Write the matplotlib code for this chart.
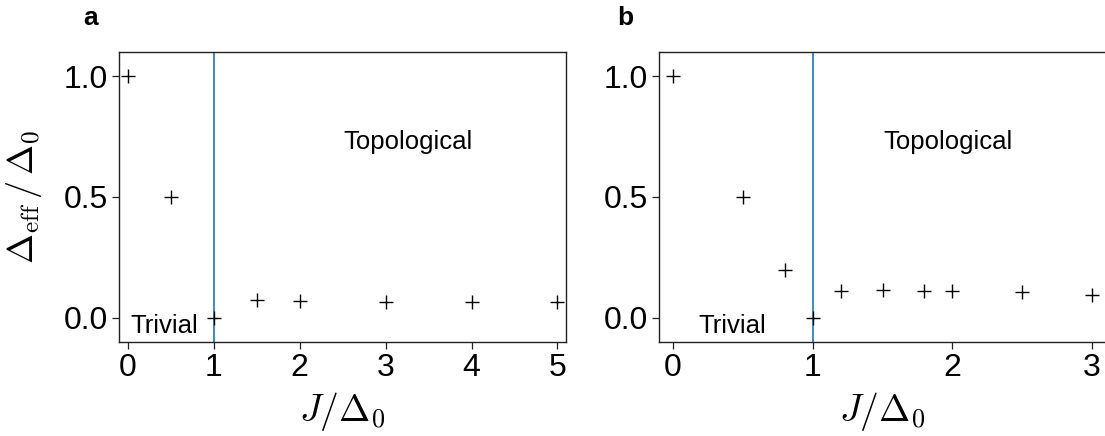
import matplotlib
matplotlib.use("Agg")
import matplotlib.pyplot as plt

plt.rcParams['font.family'] = ['Liberation Sans', 'DejaVu Sans']
plt.rcParams['mathtext.fontset'] = 'cm'

# Panel a data
Ja = [0, 0.5, 1, 1.5, 2, 3, 4, 5]
Da = [1.0, 0.5, 0.0, 0.072, 0.067, 0.063, 0.063, 0.063]
xticks_a = [0, 1, 2, 3, 4, 5]

# Panel b data
Jb = [0, 0.5, 0.8, 1, 1.2, 1.5, 1.8, 2, 2.5, 3]
Db = [1.0, 0.5, 0.199, 0.0, 0.108, 0.113, 0.109, 0.109, 0.105, 0.095]
xticks_b = [0, 1, 2, 3]

yticks = [0.0, 0.5, 1.0]
ytick_labels = ["0.0", "0.5", "1.0"]

W, H = 1105, 436
fig = plt.figure(figsize=(W / 100, H / 100), dpi=100)

def px(l, r, t, b):
    return [l / W, (H - b) / H, (r - l) / W, (b - t) / H]

axa = fig.add_axes(px(119.3, 566, 52, 341.7))
axb = fig.add_axes(px(659, 1106, 52, 341.7))

for ax, J, D, xt, xlim, topx, trivx in [
    (axa, Ja, Da, xticks_a, (-0.1, 5.1), 3.26, 0.03),
    (axb, Jb, Db, xticks_b, (-0.1, 3.1), 1.97, 0.185),
]:
    ax.axvline(1, color='#1f77b4', lw=1.2, zorder=1)
    ax.plot(J, D, linestyle='none', marker='+', color='black',
            markersize=10, markeredgewidth=1.0, zorder=3)
    ax.set_xlim(*xlim)
    ax.set_ylim(-0.1, 1.1)
    ax.set_xticks(xt)
    ax.set_xticklabels([str(v) for v in xt])
    ax.set_yticks(yticks)
    ax.set_yticklabels(ytick_labels)
    ax.tick_params(axis='both', labelsize=23, length=5, width=0.9,
                   direction='out', pad=3, colors='#222222', labelcolor='black')
    for sp in ax.spines.values():
        sp.set_linewidth(1.0)
        sp.set_color('#222222')
    ax.text(topx, 0.70, "Topological", fontsize=18.5, ha='center', va='baseline')
    ax.text(trivx, -0.062, "Trivial", fontsize=18.5, ha='left', va='baseline')
    ax.set_xlabel(r"$J/\Delta_0$", fontsize=27, labelpad=5)

axa.set_ylabel(r"$\Delta_{\rm eff}\,/\,\Delta_0$", fontsize=26, labelpad=14)

fig.text(83 / W, (H - 25) / H, "a", fontsize=19, fontweight='bold', ha='left', va='baseline')
fig.text(617 / W, (H - 25) / H, "b", fontsize=19, fontweight='bold', ha='left', va='baseline')

fig.savefig("out.png", dpi=100)
